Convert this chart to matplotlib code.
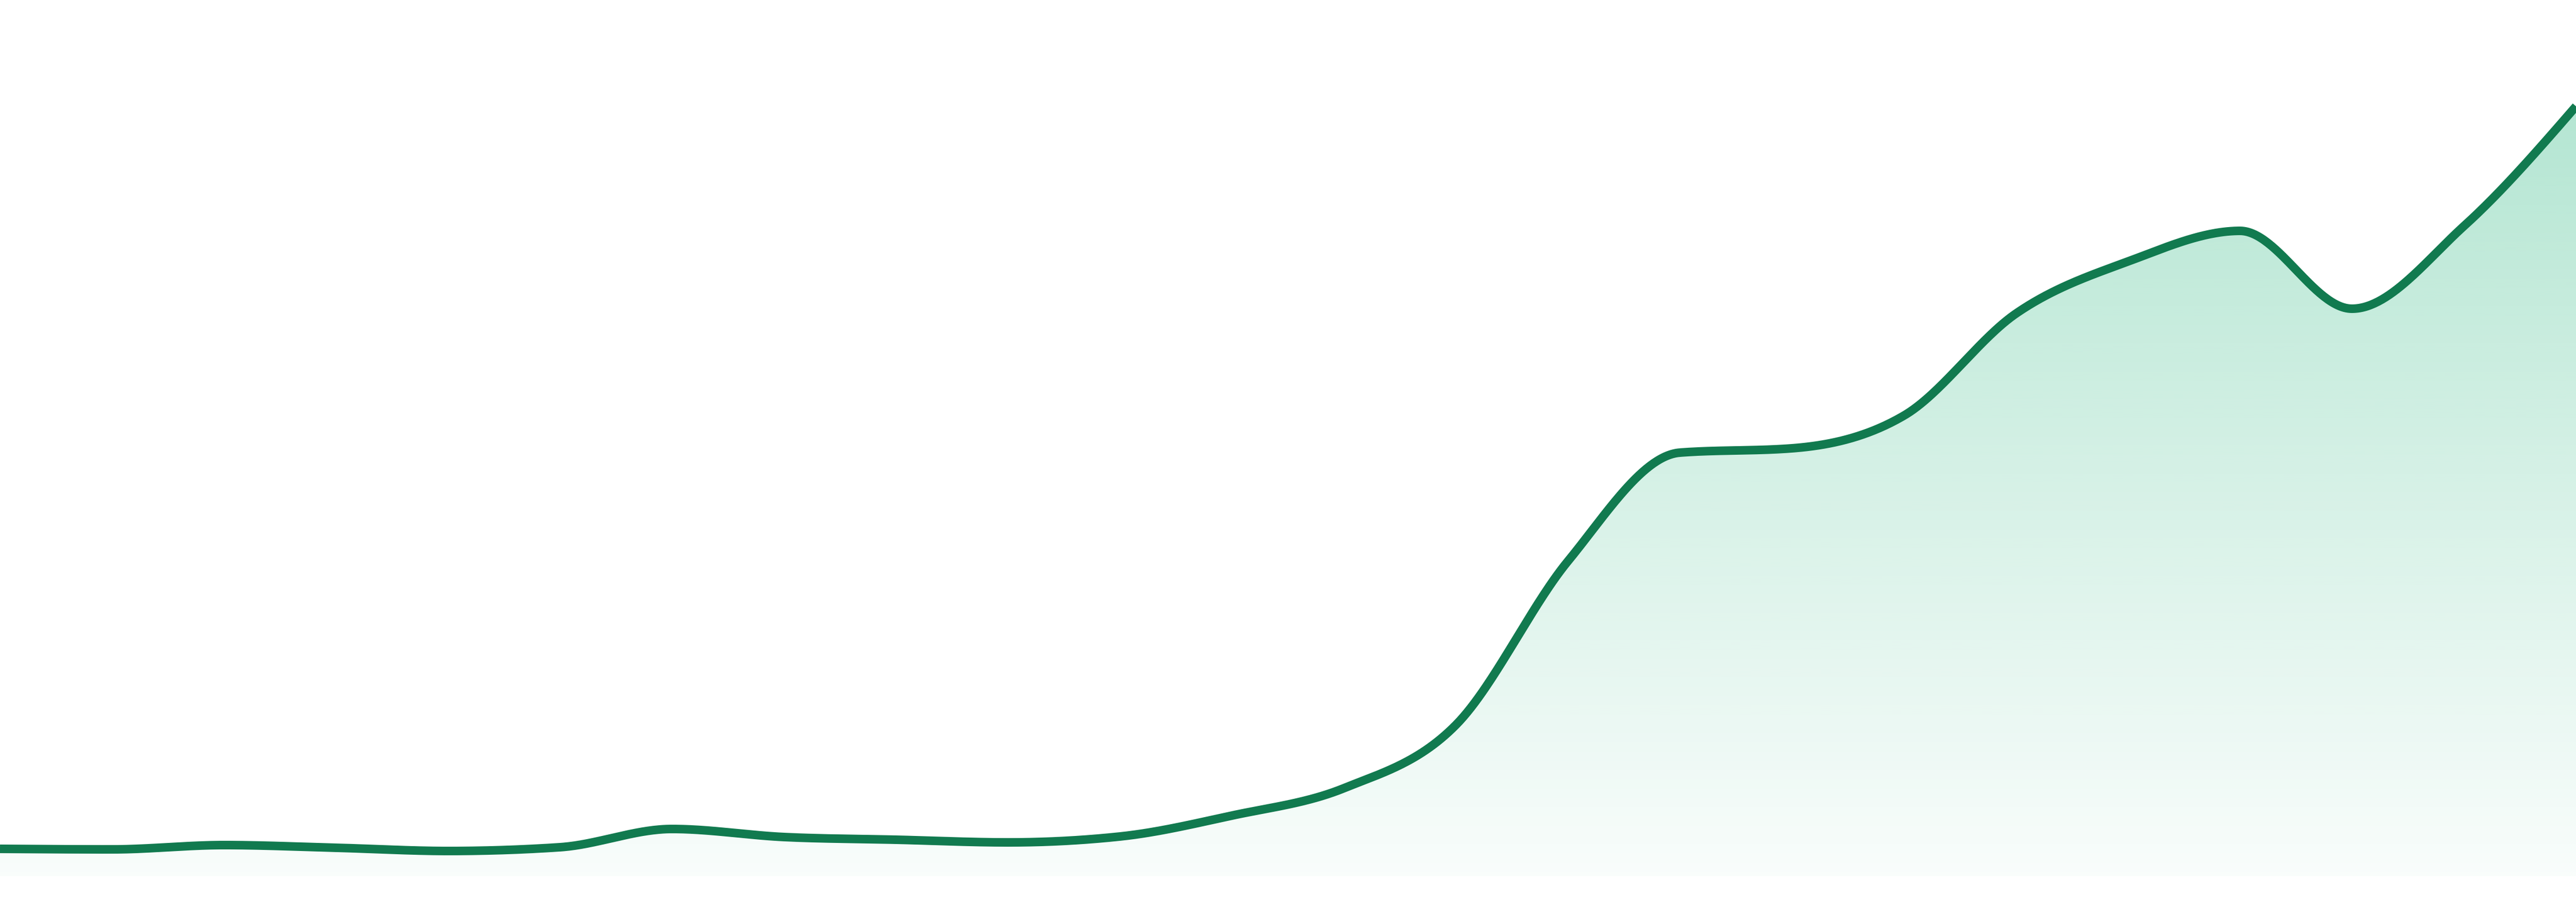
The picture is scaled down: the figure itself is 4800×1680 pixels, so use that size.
import numpy as np
import matplotlib
matplotlib.use("Agg")
import matplotlib.pyplot as plt
from matplotlib.patches import Polygon

# ---- data ----
periods = list(range(24))
values = [5.1, 5.0, 5.8, 5.3, 4.7, 5.4, 8.8, 7.3, 6.8, 6.3, 7.4, 11.3,
          16.4, 28.2, 58.7, 78.9, 79.7, 85.8, 104.8, 114.5, 120.2, 105.7,
          121.1, 143.4]
y_max = 163.2

LINE_COLOR = "#117A4F"
FILL_RGB = np.array([44, 184, 129]) / 255.0


def monotone_x(x, y, n=60):
    """d3.curveMonotoneX (Steffen) interpolation."""
    x = np.asarray(x, float)
    y = np.asarray(y, float)
    m = len(x)
    h = np.diff(x)
    s = np.diff(y) / h
    t = np.zeros(m)
    for i in range(1, m - 1):
        h0, h1 = h[i - 1], h[i]
        s0, s1 = s[i - 1], s[i]
        p = (s0 * h1 + s1 * h0) / (h0 + h1)
        t[i] = (np.sign(s0) + np.sign(s1)) * min(abs(s0), abs(s1), 0.5 * abs(p))
    t[0] = (3 * s[0] - t[1]) / 2
    t[-1] = (3 * s[-1] - t[-2]) / 2
    xs, ys = [], []
    for i in range(m - 1):
        u = np.linspace(0, 1, n, endpoint=(i == m - 2))
        x0, x1 = x[i], x[i + 1]
        y0, y1 = y[i], y[i + 1]
        dx = (x1 - x0) / 3
        c1 = y0 + dx * t[i]
        c2 = y1 - dx * t[i + 1]
        by = (1 - u) ** 3 * y0 + 3 * (1 - u) ** 2 * u * c1 + 3 * (1 - u) * u ** 2 * c2 + u ** 3 * y1
        bx = x0 + (x1 - x0) * u
        xs.append(bx)
        ys.append(by)
    return np.concatenate(xs), np.concatenate(ys)


W, H, DPI = 4800, 1680, 300
fig = plt.figure(figsize=(W / DPI, H / DPI), dpi=DPI)
fig.patch.set_facecolor("white")
bottom = 48 / H
ax = fig.add_axes([0, bottom, 1, 1 - bottom])
ax.set_xlim(periods[0], periods[-1])
ax.set_ylim(0, y_max)
ax.axis("off")

xs, ys = monotone_x(periods, values)

# gradient fill under the curve
ny = 400
frac = np.linspace(1, 0, ny)  # top -> bottom
a_top, a_bot = 0.40, 0.03
alpha = a_bot + (a_top - a_bot) * frac
grad = np.zeros((ny, 1, 4))
grad[:, 0, :3] = FILL_RGB
grad[:, 0, 3] = alpha
im = ax.imshow(grad, extent=[periods[0], periods[-1], 0, y_max],
               aspect="auto", origin="upper", interpolation="bilinear", zorder=1)
poly = Polygon(np.column_stack([np.r_[xs, xs[-1], xs[0]], np.r_[ys, 0, 0]]),
               closed=True, transform=ax.transData, facecolor="none", edgecolor="none")
ax.add_patch(poly)
im.set_clip_path(poly)

ax.plot(xs, ys, color=LINE_COLOR, lw=16 * 72 / DPI, solid_joinstyle="round",
        solid_capstyle="butt", zorder=3)

fig.savefig("out.png", dpi=DPI, facecolor="white")
